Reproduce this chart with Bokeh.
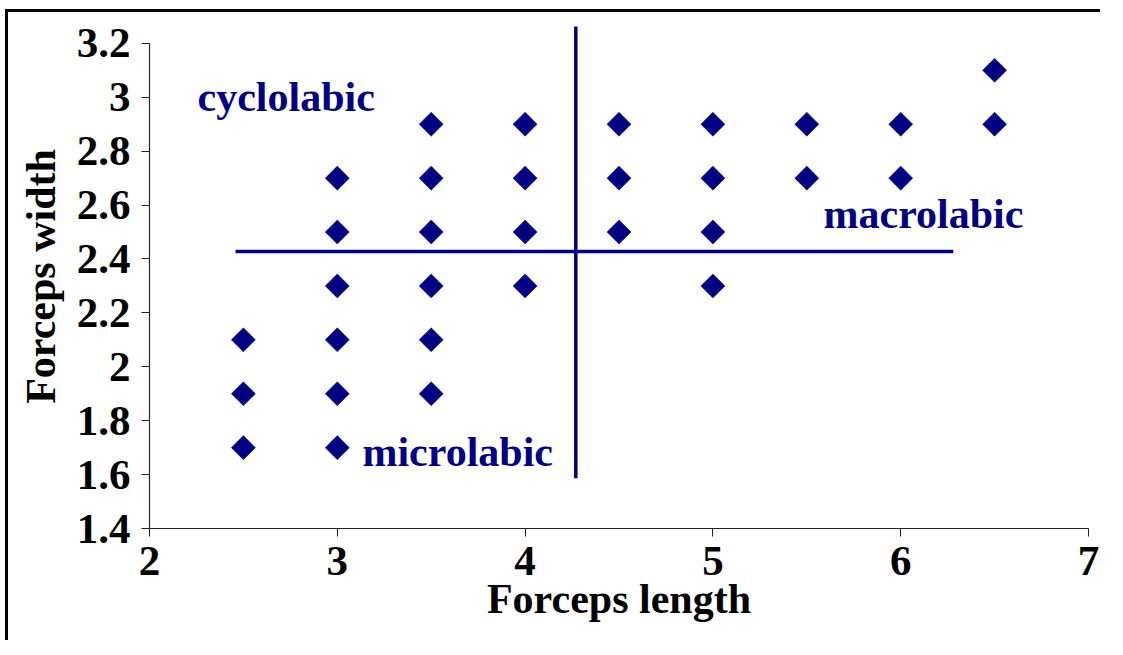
from bokeh.plotting import figure
from bokeh.models import Range1d, FixedTicker
from bokeh.core.properties import value
from bokeh.embed import file_html
from bokeh.resources import INLINE

# Data: forceps length (x) vs forceps width (y)
lengths = [2.5, 2.5, 2.5,
           3, 3, 3, 3, 3, 3,
           3.5, 3.5, 3.5, 3.5, 3.5, 3.5,
           4, 4, 4, 4,
           4.5, 4.5, 4.5,
           5, 5, 5, 5,
           5.5, 5.5,
           6, 6,
           6.5, 6.5]
widths = [2.1, 1.9, 1.7,
          2.7, 2.5, 2.3, 2.1, 1.9, 1.7,
          2.9, 2.7, 2.5, 2.3, 2.1, 1.9,
          2.9, 2.7, 2.5, 2.3,
          2.9, 2.7, 2.5,
          2.9, 2.7, 2.5, 2.3,
          2.9, 2.7,
          2.9, 2.7,
          3.1, 2.9]

# Dividing lines
v_line_x = [4.27]
v_line_y = [1.586, 3.263]
h_line_y = [2.428]
h_line_x = [2.458, 6.28]

# Region labels
region_names = ["cyclolabic", "microlabic", "macrolabic"]
region_x = [2.256, 3.134, 5.589]
region_y = [3.0, 1.682, 2.566]

x_ticks = [2, 3, 4, 5, 6, 7]
y_ticks = [1.4, 1.6, 1.8, 2.0, 2.2, 2.4, 2.6, 2.8, 3.0, 3.2]
y_tick_labels = ["1.4", "1.6", "1.8", "2", "2.2", "2.4", "2.6", "2.8", "3", "3.2"]

NAVY = "#000080"
FONT = "Liberation Serif"

p = figure(width=1095, height=631, output_backend="svg", toolbar_location=None,
           x_range=Range1d(2, 7), y_range=Range1d(1.4, 3.27),
           min_border_left=141, min_border_right=15,
           min_border_top=12, min_border_bottom=115,
           background_fill_color="white", border_fill_color="white")
p.outline_line_color = None
p.grid.visible = False
p.styles = {"border-left": "3px solid black", "border-top": "3px solid black",
            "margin-left": "5px", "margin-top": "9px"}

p.xaxis.ticker = FixedTicker(ticks=x_ticks)
p.yaxis.ticker = FixedTicker(ticks=y_ticks)
p.yaxis.major_label_overrides = dict(zip(y_ticks, y_tick_labels))
p.yaxis.bounds = (1.4, 3.2)
for ax in (p.xaxis, p.yaxis):
    ax.axis_line_color = "#222222"
    ax.axis_line_width = 1.2
    ax.major_tick_line_color = "#222222"
    ax.major_tick_in = 0
    ax.major_tick_out = 8
    ax.minor_tick_line_color = None
    ax.major_label_text_font = FONT
    ax.major_label_text_font_style = "bold"
    ax.major_label_text_font_size = "43px"
    ax.major_label_text_color = "black"
    ax.axis_label_text_font = FONT
    ax.axis_label_text_font_style = "bold"
    ax.axis_label_text_font_size = "42px"
    ax.axis_label_text_color = "black"
p.xaxis.axis_label = "Forceps length"
p.yaxis.axis_label = "Forceps width"
p.xaxis.major_label_standoff = 10
p.yaxis.major_label_standoff = 11
p.xaxis.axis_label_standoff = -2
p.yaxis.axis_label_standoff = 10

p.segment(x0=[v_line_x[0]], y0=[v_line_y[0]], x1=[v_line_x[0]], y1=[v_line_y[1]],
          line_color=NAVY, line_width=3.5)
p.segment(x0=[h_line_x[0]], y0=[h_line_y[0]], x1=[h_line_x[1]], y1=[h_line_y[0]],
          line_color=NAVY, line_width=3.5)

p.scatter(lengths, widths, marker="square", size=17, angle=0.7853981634,
          fill_color=NAVY, line_color=NAVY, line_width=0.5)

p.text(region_x, region_y, text=region_names, text_color=NAVY,
       text_font=value(FONT), text_font_style="bold", text_font_size="42px",
       text_align="left", text_baseline="middle")

open("out.html", "w").write(file_html(p, INLINE))
